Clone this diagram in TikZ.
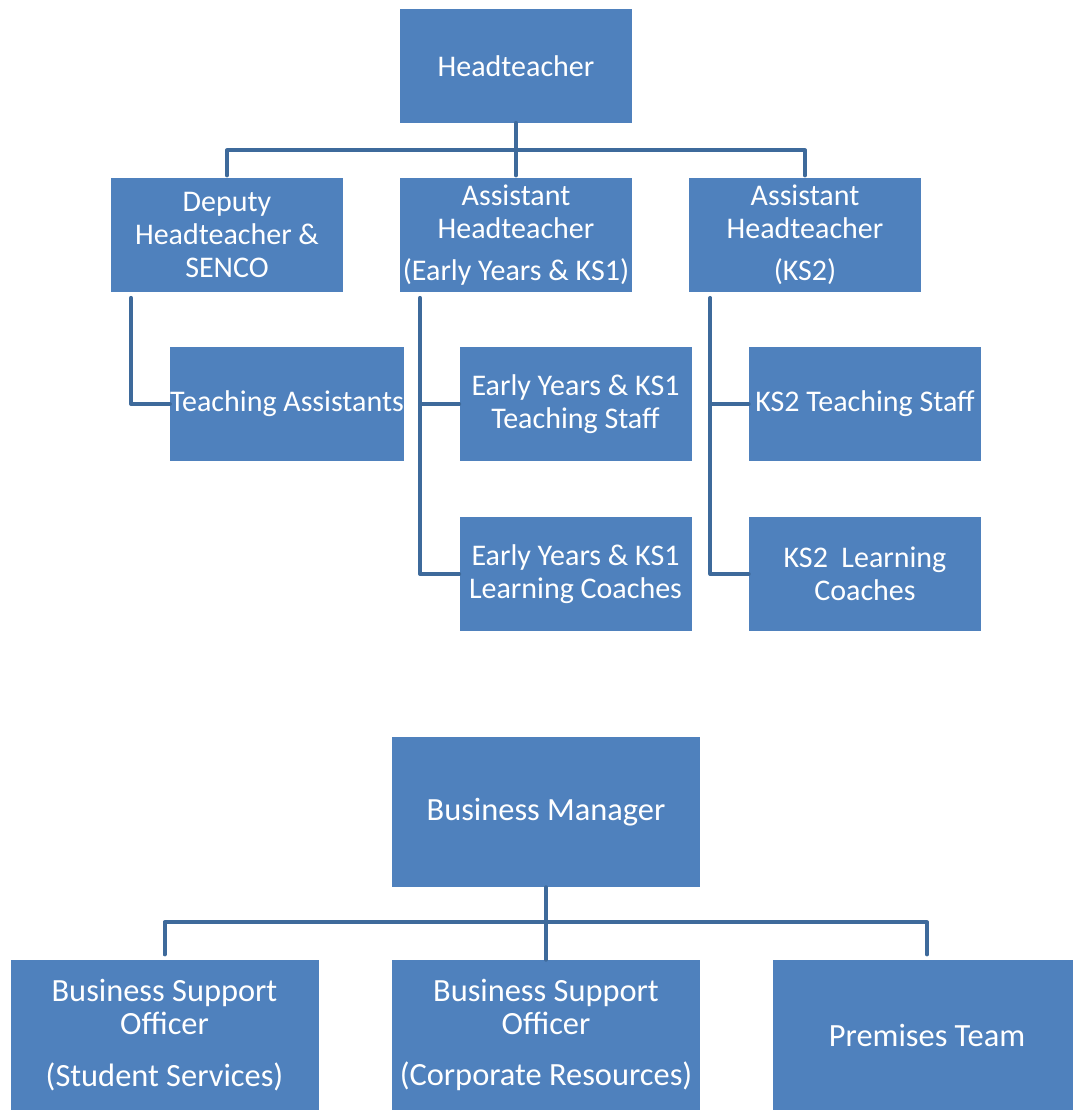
\documentclass[tikz,border=0pt]{standalone}
\usepackage{fontspec}
\setmainfont{Carlito}
\definecolor{boxblue}{RGB}{79,129,189}
\definecolor{lineblue}{RGB}{62,106,155}
\tikzset{
	staff/.style={fill=boxblue, text=white, align=center, inner sep=0pt,
		minimum width=174pt, minimum height=85pt,
		font=\fontsize{22.5}{24.75}\selectfont},
	office/.style={staff, minimum width=231pt, minimum height=112.5pt,
		font=\fontsize{24.3}{24.75}\selectfont},
	link/.style={draw=lineblue, line width=3pt, line cap=round, line join=round}
}
\begin{document}
\begin{tikzpicture}[x=0.75pt, y=-0.75pt]
	\useasboundingbox (0,0) rectangle (1072,1110);
	% teaching side
	\node[staff] (head) at (516,66) {Headteacher};
	\node[staff] (deputy) at (227,235) {Deputy\\Headteacher \&\\SENCO};
	\node[staff] (ahey) at (516,235) {Assistant\\Headteacher\\[7pt](Early Years \& KS1)};
	\node[staff] (ahks) at (805,235) {Assistant\\Headteacher\\[7pt](KS2)};
	\node[staff] (ta) at (287,404) {Teaching Assistants};
	\node[staff] (eyts) at (575.5,404) {Early Years \& KS1\\Teaching Staff};
	\node[staff] (eylc) at (575.5,574) {Early Years \& KS1\\Learning Coaches};
	\node[staff] (ksts) at (865,404) {KS2 Teaching Staff};
	\node[staff] (kslc) at (865,574) {KS2~~Learning\\Coaches};
	\coordinate (hbar) at (516,150);
	\draw[link] (head.south) -- (hbar);
	\draw[link] ([yshift=2pt]deputy.north) -- ++(0,-25) -| ([yshift=2pt]ahks.north);
	\draw[link] ([yshift=2pt]ahey.north) -- ++(0,-25);
	\draw[link] ([xshift=-72pt,yshift=-4.5pt]deputy.south) |- (ta.west);
	\draw[link] ([xshift=-72pt,yshift=-4.5pt]ahey.south) |- (eylc.west);
	\draw[link] ([xshift=-72pt]ahey.south |- eyts.west) -- (eyts.west);
	\draw[link] ([xshift=-71pt,yshift=-4.5pt]ahks.south) |- (kslc.west);
	\draw[link] ([xshift=-71pt]ahks.south |- ksts.west) -- (ksts.west);
	% business side
	\node[office] (bm) at (546,812) {Business Manager};
	\node[office] (bsss) at (164.5,1035) {Business Support\\Officer\\[14pt](Student Services)};
	\node[office] (bscr) at (546,1035) {Business Support\\Officer\\[14pt](Corporate Resources)};
	\node[office] (prem) at (927,1035) {Premises Team};
	\draw[link] (bm.south) -- (bscr.north);
	\draw[link] ([yshift=4pt]bsss.north) -- ++(0,-32) -| ([yshift=4pt]prem.north);
\end{tikzpicture}
\end{document}
